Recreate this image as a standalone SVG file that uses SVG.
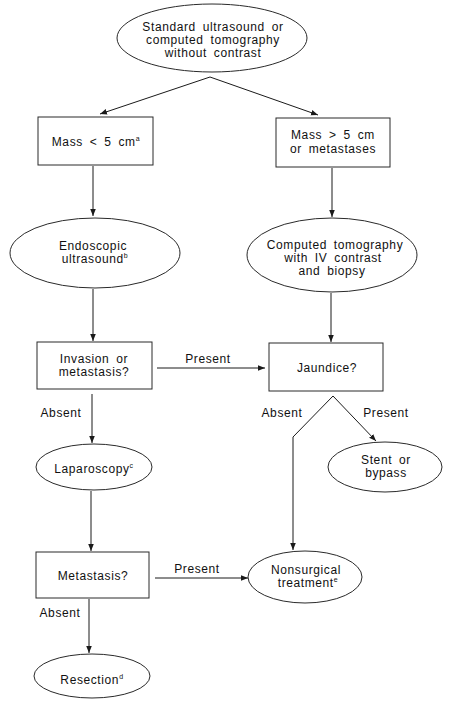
<svg xmlns="http://www.w3.org/2000/svg" width="449" height="707" viewBox="0 0 449 707">
<defs>
<marker id="ah" viewBox="0 0 10 10" refX="10" refY="5" markerWidth="7" markerHeight="7" markerUnits="userSpaceOnUse" orient="auto">
<path d="M0,1 L10,5 L0,9 z" fill="#1a1a1a"/>
</marker>
<style>
.shape{fill:#fff;stroke:#2a2a2a;stroke-width:1}
.line{fill:none;stroke:#1a1a1a;stroke-width:1}
.arr{marker-end:url(#ah)}
text{font-family:"Liberation Sans",Arial,sans-serif;font-size:12px;fill:#111;text-anchor:middle;letter-spacing:0.6px;word-spacing:3px}
.sup{font-size:7px}
</style>
</defs>
<rect width="449" height="707" fill="#fff"/>
<g id="connectors">
<polyline class="line arr" points="210,77 100,114"/>
<polyline class="line arr" points="210,77 318,115"/>
<line class="line arr" x1="93" y1="166" x2="93" y2="216"/>
<line class="line arr" x1="332" y1="168" x2="332" y2="217"/>
<line class="line arr" x1="93" y1="289" x2="93" y2="341"/>
<line class="line arr" x1="331" y1="293" x2="331" y2="342"/>
<line class="line arr" x1="157" y1="368" x2="265" y2="368"/>
<line class="line arr" x1="92" y1="394" x2="92" y2="443"/>
<polyline class="line arr" points="333,396 293,437 293,550"/>
<line class="line arr" x1="333" y1="396" x2="376" y2="441"/>
<line class="line arr" x1="91" y1="491" x2="91" y2="551"/>
<line class="line arr" x1="155" y1="578" x2="248" y2="578"/>
<line class="line arr" x1="89" y1="599" x2="89" y2="653"/>
<text x="208" y="363">Present</text>
<text x="61" y="417">Absent</text>
<text x="282" y="417">Absent</text>
<text x="386" y="417">Present</text>
<text x="197" y="573">Present</text>
<text x="60" y="617">Absent</text>
</g>
<g id="start">
<ellipse class="shape" cx="212" cy="38" rx="95" ry="34"/>
<text x="213" y="31">Standard ultrasound or</text>
<text x="213" y="44">computed tomography</text>
<text x="213" y="57">without contrast</text>
</g>
<g id="mass-small">
<rect class="shape" x="38" y="117" width="115" height="48"/>
<text x="96" y="146">Mass &lt; 5 cm<tspan class="sup" dy="-5">a</tspan></text>
</g>
<g id="mass-large">
<rect class="shape" x="276" y="118" width="114" height="49"/>
<text x="333" y="139">Mass &gt; 5 cm</text>
<text x="333" y="153">or metastases</text>
</g>
<g id="eus">
<ellipse class="shape" cx="95" cy="253" rx="85" ry="35"/>
<text x="93" y="250">Endoscopic</text>
<text x="95" y="263">ultrasound<tspan class="sup" dy="-5">b</tspan></text>
</g>
<g id="ct">
<ellipse class="shape" cx="332" cy="255" rx="85" ry="37"/>
<text x="335" y="249">Computed tomography</text>
<text x="333" y="262">with IV contrast</text>
<text x="332" y="275">and biopsy</text>
</g>
<g id="invasion">
<rect class="shape" x="37" y="342" width="115" height="47"/>
<text x="94" y="363">Invasion or</text>
<text x="94" y="376">metastasis?</text>
</g>
<g id="jaundice">
<rect class="shape" x="269" y="343" width="114" height="48"/>
<text x="327" y="372">Jaundice?</text>
</g>
<g id="laparoscopy">
<ellipse class="shape" cx="94" cy="467" rx="58" ry="23"/>
<text x="94" y="473">Laparoscopy<tspan class="sup" dy="-5">c</tspan></text>
</g>
<g id="stent">
<ellipse class="shape" cx="385" cy="467" rx="57" ry="25"/>
<text x="386" y="464">Stent or</text>
<text x="386" y="477">bypass</text>
</g>
<g id="metastasis">
<rect class="shape" x="36" y="552" width="113" height="46"/>
<text x="93" y="580">Metastasis?</text>
</g>
<g id="nonsurgical">
<ellipse class="shape" cx="305" cy="577" rx="57" ry="26"/>
<text x="306" y="574">Nonsurgical</text>
<text x="308" y="587">treatment<tspan class="sup" dy="-5">e</tspan></text>
</g>
<g id="resection">
<ellipse class="shape" cx="92" cy="676" rx="58" ry="22"/>
<text x="92" y="684">Resection<tspan class="sup" dy="-5">d</tspan></text>
</g>
</svg>
